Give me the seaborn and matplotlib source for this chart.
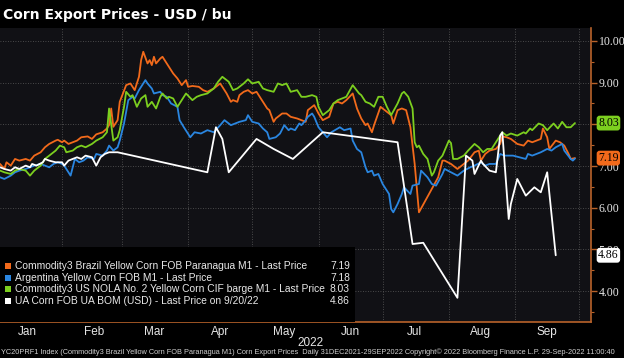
import pandas as pd
import matplotlib
matplotlib.use("Agg")
import matplotlib.pyplot as plt
import matplotlib.dates as mdates
from matplotlib.patches import Rectangle
from matplotlib.transforms import blended_transform_factory
import seaborn as sns

# -------------------------------------------------
# Data (2022, USD / bu)
# -------------------------------------------------
brazil_dates = ["01-03", "01-05", "01-06", "01-08", "01-10", "01-12", "01-15", "01-17", "01-19", "01-22",
                "01-24", "01-26", "01-29", "01-30", "02-01", "02-02", "02-04", "02-06", "02-08", "02-10",
                "02-13", "02-15", "02-17", "02-20", "02-22", "02-23", "02-24", "02-25", "02-27", "02-28",
                "03-03", "03-05", "03-07", "03-09", "03-10", "03-11", "03-13", "03-14", "03-15", "03-16",
                "03-17", "03-19", "03-20", "03-22", "03-24", "03-25", "03-27", "03-29", "03-31", "04-01",
                "04-03", "04-06", "04-08", "04-10", "04-13", "04-16", "04-17", "04-19", "04-21", "04-22",
                "04-24", "04-25", "04-27", "04-29", "05-01", "05-03", "05-05", "05-06", "05-08", "05-09",
                "05-11", "05-12", "05-15", "05-17", "05-19", "05-22", "05-24", "05-26", "05-27", "05-30",
                "06-01", "06-03", "06-06", "06-08", "06-10", "06-12", "06-14", "06-17", "06-19", "06-21",
                "06-23", "06-24", "06-26", "06-27", "06-30", "07-02", "07-05", "07-06", "07-08", "07-10",
                "07-12", "07-14", "07-16", "07-18", "07-21", "07-24", "07-27", "07-29", "07-30", "08-02",
                "08-05", "08-08", "08-10", "08-13", "08-15", "08-16", "08-18", "08-20", "08-23", "08-25",
                "08-26", "08-28", "08-30", "09-02", "09-05", "09-07", "09-09", "09-13", "09-14", "09-16",
                "09-17", "09-20", "09-22", "09-24", "09-26", "09-27", "09-29"]
brazil_vals = [7.05, 6.93, 7.09, 7.01, 7.17, 7.13, 7.17, 7.13, 7.25, 7.33,
               7.45, 7.53, 7.61, 7.63, 7.57, 7.61, 7.53, 7.57, 7.61, 7.69,
               7.71, 7.65, 7.76, 7.81, 7.90, 7.98, 8.38, 7.94, 8.10, 8.54,
               8.94, 8.98, 8.82, 9.14, 9.54, 9.74, 9.46, 9.54, 9.42, 9.62,
               9.46, 9.58, 9.62, 9.46, 9.30, 9.22, 9.10, 8.94, 9.06, 8.90,
               8.92, 8.90, 8.82, 8.78, 8.86, 8.98, 8.90, 8.74, 8.54, 8.58,
               8.54, 8.70, 8.78, 8.82, 8.74, 8.78, 8.62, 8.54, 8.38, 8.34,
               8.06, 8.14, 8.26, 8.26, 8.18, 8.14, 8.10, 8.06, 8.34, 8.46,
               8.26, 8.10, 8.18, 8.50, 8.54, 8.50, 8.58, 8.74, 8.38, 8.14,
               7.98, 8.02, 7.81, 7.98, 8.42, 8.34, 8.22, 8.02, 8.34, 8.38,
               8.34, 7.93, 7.05, 5.89, 6.17, 6.45, 6.73, 7.13, 7.13, 7.05,
               6.93, 7.05, 7.13, 7.33, 7.37, 7.13, 7.29, 7.37, 7.41, 7.53,
               7.71, 7.69, 7.65, 7.53, 7.49, 7.61, 7.57, 7.65, 7.90, 7.69,
               7.41, 7.61, 7.57, 7.49, 7.29, 7.17, 7.19]

argentina_dates = ["01-03", "01-05", "01-08", "01-10", "01-12", "01-15", "01-17", "01-19", "01-22", "01-24",
                   "01-26", "01-28", "01-30", "02-01", "02-02", "02-05", "02-06", "02-07", "02-09", "02-11",
                   "02-13", "02-16", "02-17", "02-20", "02-22", "02-23", "02-25", "02-27", "02-28", "03-02",
                   "03-04", "03-06", "03-07", "03-09", "03-12", "03-13", "03-15", "03-16", "03-19", "03-20",
                   "03-22", "03-24", "03-27", "03-28", "03-30", "04-02", "04-04", "04-07", "04-10", "04-13",
                   "04-16", "04-18", "04-21", "04-23", "04-25", "04-28", "04-29", "05-01", "05-04", "05-06",
                   "05-08", "05-09", "05-12", "05-14", "05-16", "05-18", "05-19", "05-21", "05-23", "05-24",
                   "05-26", "05-27", "05-29", "05-30", "06-01", "06-03", "06-05", "06-07", "06-10", "06-11",
                   "06-13", "06-16", "06-17", "06-19", "06-21", "06-23", "06-24", "06-26", "06-27", "06-29",
                   "07-01", "07-02", "07-04", "07-05", "07-06", "07-08", "07-10", "07-11", "07-14", "07-15",
                   "07-18", "07-19", "07-22", "07-24", "07-26", "07-29", "07-30", "08-02", "08-05", "08-08",
                   "08-11", "08-13", "08-16", "08-18", "08-20", "08-23", "08-25", "08-27", "08-31", "09-03",
                   "09-06", "09-07", "09-09", "09-13", "09-16", "09-18", "09-20", "09-23", "09-24", "09-27",
                   "09-28", "09-29"]
argentina_vals = [6.73, 6.69, 6.77, 6.85, 6.89, 6.93, 6.97, 7.01, 7.05, 7.01,
                  6.97, 7.05, 7.09, 7.05, 7.01, 6.77, 6.97, 7.17, 7.09, 7.13,
                  7.21, 7.17, 7.29, 7.25, 7.37, 7.49, 7.37, 7.45, 7.61, 8.02,
                  8.58, 8.66, 8.62, 8.82, 9.06, 8.98, 8.86, 8.74, 8.78, 8.70,
                  8.66, 8.50, 8.42, 8.10, 7.93, 7.69, 7.81, 7.78, 7.86, 7.81,
                  7.98, 8.10, 7.98, 8.02, 8.06, 8.10, 8.22, 8.06, 8.02, 7.90,
                  7.81, 7.65, 7.69, 7.78, 7.98, 7.86, 7.90, 7.86, 8.02, 7.98,
                  8.10, 8.18, 8.26, 8.18, 7.93, 7.81, 7.69, 7.81, 7.90, 7.93,
                  7.86, 7.90, 7.61, 7.41, 7.33, 6.97, 6.85, 6.89, 6.77, 6.81,
                  6.57, 6.49, 6.33, 5.97, 5.89, 6.09, 6.33, 6.49, 6.33, 6.53,
                  6.57, 6.89, 6.73, 6.57, 6.53, 6.81, 6.93, 6.85, 6.77, 6.89,
                  6.97, 7.01, 7.09, 7.01, 7.05, 7.05, 7.29, 7.25, 7.25, 7.21,
                  7.17, 7.29, 7.25, 7.33, 7.41, 7.37, 7.45, 7.53, 7.37, 7.17,
                  7.13, 7.18]

nola_dates = ["01-03", "01-05", "01-08", "01-10", "01-12", "01-15", "01-17", "01-19", "01-22", "01-24",
              "01-26", "01-29", "01-31", "02-02", "02-03", "02-06", "02-08", "02-10", "02-12", "02-15",
              "02-17", "02-20", "02-22", "02-23", "02-25", "02-27", "02-28", "03-02", "03-03", "03-05",
              "03-06", "03-08", "03-10", "03-12", "03-13", "03-15", "03-17", "03-19", "03-20", "03-22",
              "03-23", "03-25", "03-27", "03-29", "03-31", "04-03", "04-05", "04-07", "04-10", "04-13",
              "04-15", "04-17", "04-20", "04-22", "04-24", "04-27", "04-29", "05-01", "05-04", "05-06",
              "05-08", "05-11", "05-13", "05-15", "05-17", "05-19", "05-22", "05-24", "05-26", "05-29",
              "05-31", "06-01", "06-03", "06-06", "06-08", "06-10", "06-12", "06-14", "06-17", "06-20",
              "06-21", "06-23", "06-25", "06-27", "06-29", "07-01", "07-03", "07-05", "07-08", "07-10",
              "07-11", "07-13", "07-15", "07-16", "07-17", "07-18", "07-20", "07-22", "07-24", "07-25",
              "07-27", "07-29", "08-01", "08-02", "08-03", "08-05", "08-08", "08-10", "08-13", "08-15",
              "08-17", "08-19", "08-21", "08-23", "08-25", "08-26", "08-28", "08-30", "09-02", "09-05",
              "09-06", "09-08", "09-09", "09-12", "09-14", "09-16", "09-19", "09-21", "09-23", "09-25",
              "09-27", "09-29"]
nola_vals = [6.89, 6.85, 6.81, 6.89, 6.93, 6.89, 6.77, 6.89, 7.01, 7.17,
             7.25, 7.37, 7.49, 7.45, 7.33, 7.37, 7.45, 7.49, 7.45, 7.53,
             7.61, 7.69, 7.81, 8.38, 7.61, 7.69, 7.86, 8.42, 8.78, 8.66,
             8.70, 8.42, 8.62, 8.70, 8.42, 8.54, 8.38, 8.66, 8.74, 8.62,
             8.66, 8.62, 8.42, 8.58, 8.74, 8.58, 8.66, 8.70, 8.74, 8.86,
             9.02, 9.14, 9.02, 8.82, 8.86, 8.98, 9.08, 8.98, 9.02, 8.86,
             8.82, 8.78, 8.98, 8.94, 8.98, 8.78, 8.82, 8.66, 8.66, 8.70,
             8.66, 8.42, 8.22, 8.34, 8.50, 8.58, 8.62, 8.66, 8.94, 8.74,
             8.70, 8.54, 8.50, 8.42, 8.66, 8.66, 8.42, 8.22, 8.50, 8.74,
             8.78, 8.66, 8.38, 7.57, 7.45, 7.49, 7.29, 7.17, 6.77, 6.85,
             7.13, 7.25, 7.61, 7.55, 7.17, 7.17, 7.25, 7.37, 7.53, 7.45,
             7.33, 7.41, 7.41, 7.57, 7.73, 7.81, 7.73, 7.78, 7.73, 7.81,
             7.78, 7.90, 7.86, 8.02, 7.98, 7.86, 8.02, 7.90, 8.06, 7.93,
             7.93, 8.03]

ua_dates = ["01-03", "01-05", "01-08", "01-10", "01-12", "01-15", "01-17", "01-18", "01-20", "01-23",
            "01-24", "01-26", "01-29", "02-01", "02-02", "02-04", "02-06", "02-08", "02-10", "02-12",
            "02-15", "02-17", "02-19", "02-21", "02-23", "02-27", "04-10", "04-14", "04-17", "04-20",
            "05-03", "05-11", "05-20", "06-03", "07-08", "07-15", "07-20", "08-05", "08-09", "08-12",
            "08-13", "08-16", "08-17", "08-20", "08-23", "08-25", "08-26", "08-29", "08-30", "09-02",
            "09-06", "09-10", "09-13", "09-16", "09-20"]
ua_vals = [6.97, 6.93, 6.89, 6.97, 6.93, 7.01, 6.97, 7.05, 7.01, 7.09,
           7.17, 7.13, 7.09, 7.09, 7.01, 7.13, 7.17, 7.21, 7.17, 7.25,
           7.21, 7.01, 7.21, 7.29, 7.33, 7.33, 6.85, 7.93, 7.65, 6.85,
           7.65, 7.41, 7.17, 7.81, 7.57, 5.13, 5.16, 3.84, 7.25, 7.13,
           6.81, 7.13, 7.05, 6.89, 6.85, 7.73, 7.81, 5.73, 6.09, 6.69,
           6.29, 6.49, 6.37, 6.85, 4.86]

series_names = [
    "Commodity3 Brazil Yellow Corn FOB Paranagua M1 - Last Price",
    "Argentina Yellow Corn FOB M1 - Last Price",
    "Commodity3 US NOLA No. 2 Yellow Corn CIF barge M1 - Last Price",
    "UA Corn FOB UA BOM (USD) - Last Price on 9/20/22",
]
last_labels = ["7.19", "7.18", "8.03", "4.86"]
colors = ["#f26a1b", "#2a86e0", "#7ccf1f", "#ffffff"]

# -------------------------------------------------
# Long table for seaborn
# -------------------------------------------------
frames = []
for name, d, v in zip(series_names,
                      [brazil_dates, argentina_dates, nola_dates, ua_dates],
                      [brazil_vals, argentina_vals, nola_vals, ua_vals]):
    frames.append(pd.DataFrame({"date": pd.to_datetime(["2022-" + s for s in d]),
                                "price": v, "series": name}))
df = pd.concat(frames, ignore_index=True)

# -------------------------------------------------
# Figure
# -------------------------------------------------
sns.set_style("dark")
plt.rcParams["font.family"] = ["Liberation Sans", "DejaVu Sans"]

W, H = 624, 358
fig = plt.figure(figsize=(W / 100, H / 100), dpi=100, facecolor="black")
ax = fig.add_axes([0, 1 - 322 / H, 591 / W, 294 / H])
ax.set_facecolor("#111115")

axis_col = "#b8622a"
grid_col = "#5c5c5c"

sns.lineplot(data=df, x="date", y="price", hue="series", hue_order=series_names,
             palette=dict(zip(series_names, colors)), estimator=None, sort=False,
             linewidth=1.3, legend=False, ax=ax)

start = mdates.date2num(pd.Timestamp("2022-01-01"))
ax.set_xlim(start + 1.97, start + 278.5)
ax.set_ylim(3.26, 10.31)

# x: gridlines at month starts, labels mid-month
ax.xaxis.set_major_locator(mdates.MonthLocator())
ax.xaxis.set_major_formatter(plt.NullFormatter())
ax.xaxis.set_minor_locator(mdates.MonthLocator(bymonthday=16))
ax.xaxis.set_minor_formatter(mdates.DateFormatter("%b"))
ax.tick_params(axis="x", which="major", length=0)
ax.tick_params(axis="x", which="minor", length=0, pad=3, labelsize=8.5, labelcolor="#e6e6e6")

# y: right side (8.00 sits under the 8.03 tag)
ax.yaxis.tick_right()
ax.set_yticks([4, 5, 6, 7, 8, 9, 10])
ax.set_yticks([3.5, 4.5, 5.5, 6.5, 7.5, 8.5, 9.5], minor=True)
ax.yaxis.set_major_formatter(plt.FuncFormatter(lambda v, p: "" if abs(v - 8) < 1e-6 else f"{v:.2f}"))
ax.tick_params(axis="y", which="major", direction="out", length=4, width=1, color=axis_col,
               pad=1.5, labelsize=8.5, labelcolor="#e6e6e6")
ax.tick_params(axis="y", which="minor", direction="out", length=2, width=0.8, color=axis_col)
for lbl in ax.get_yticklabels():
    lbl.set_family(["Liberation Serif", "DejaVu Serif"])
ax.set_xlabel("")
ax.set_ylabel("")

ax.grid(True, which="major", color=grid_col, linestyle=(0, (1, 2)), linewidth=0.6)
for side in ["top", "left"]:
    ax.spines[side].set_visible(False)
for side in ["right", "bottom"]:
    ax.spines[side].set_visible(True)
    ax.spines[side].set_color(axis_col)
    ax.spines[side].set_linewidth(1.2)

# last value tags on the right axis
tag_tr = blended_transform_factory(ax.transAxes, ax.transData)
for name, val, col in [(series_names[2], last_labels[2], colors[2]),
                       (series_names[0], last_labels[0], colors[0]),
                       (series_names[3], last_labels[3], colors[3])]:
    ax.text(1.012, float(val), val, transform=tag_tr, ha="left", va="center",
            fontsize=8.5, family=["Liberation Serif", "DejaVu Serif"], color="black",
            bbox=dict(boxstyle="round,pad=0.12,rounding_size=0.25", fc=col, ec="none"),
            clip_on=False, zorder=10)

# legend box (bottom-left)
ax.add_patch(Rectangle((0, 0), 355 / 591, (322 - 247) / 294, transform=ax.transAxes,
                       facecolor="black", edgecolor="none", zorder=5))
rows_y = [266, 277.7, 289.3, 301]
for name, val, col, yy in zip(series_names, last_labels, colors, rows_y):
    fy = 1 - yy / H
    fig.patches.append(Rectangle((4.5 / W, fy - 3 / H), 6 / W, 6 / H, transform=fig.transFigure,
                                 facecolor=col, edgecolor="none", zorder=6))
    fig.text(15.5 / W, fy, name, ha="left", va="center", fontsize=7.4, color="#e8e8e8", zorder=7)
    fig.text(350 / W, fy, val, ha="right", va="center", fontsize=7.4, color="#e8e8e8", zorder=7)

# title, year, footer
fig.text(3 / W, 1 - 15 / H, "Corn Export Prices - USD / bu", ha="left", va="center",
         fontsize=10, fontweight="bold", family="DejaVu Sans", color="white")
fig.text(310 / W, 1 - 343 / H, "2022", ha="center", va="center", fontsize=8.5, color="#e6e6e6")
fig.text(1 / W, 1 - 352.5 / H,
         "YC20PRF1 Index (Commodity3 Brazil Yellow Corn FOB Paranagua M1) Corn Export Prices  "
         "Daily 31DEC2021-29SEP2022 Copyright\u00a9 2022 Bloomberg Finance L.P. 29-Sep-2022 11:00:40",
         ha="left", va="center", fontsize=5.35, color="#cfcfcf")

fig.savefig("out.png", dpi=100, facecolor="black")
